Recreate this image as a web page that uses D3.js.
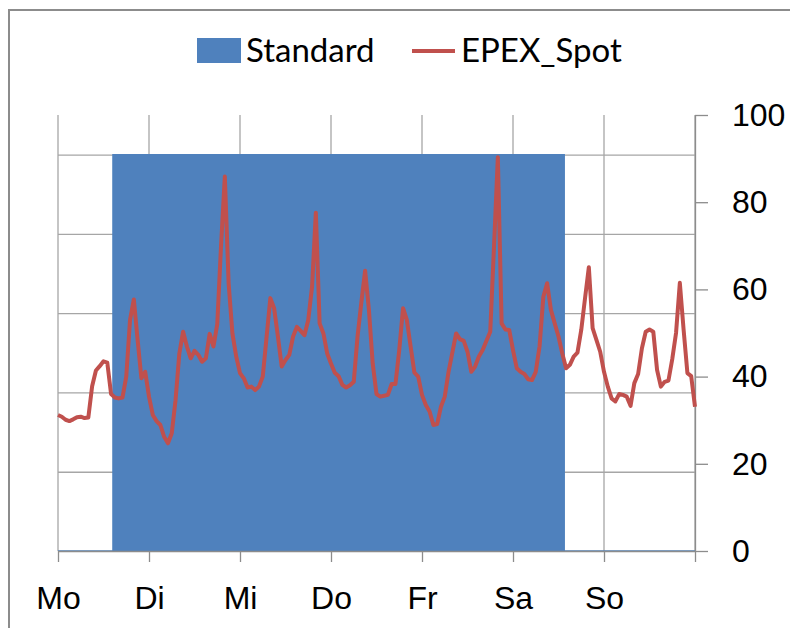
<!DOCTYPE html>
<html>
<head>
<meta charset="utf-8">
<script src="https://cdn.jsdelivr.net/npm/d3@7"></script>
<style>
  body { margin: 0; background: #fff; }
  svg { display: block; font-family: Lato, "Open Sans", sans-serif; }
  .grid line { stroke: #a6a6a6; stroke-width: 1.3; }
  .grid path { display: none; }
  .axis path, .axis line { stroke: #8c8c8c; stroke-width: 1.3; }
  .axis text { fill: #000; font-size: 32px; }
</style>
</head>
<body>
<div class="chart"></div>
<script>
// week of hourly values, Mo 00:00 .. So 24:00
var days = ["Mo", "Di", "Mi", "Do", "Fr", "Sa", "So"];
var dayHours = [0, 24, 48, 72, 96, 120, 144, 168];
var yTicks = [0, 20, 40, 60, 80, 100];

// Standard tariff window (1 = on)
var standard = [
  0,0,0,0,0,0,0,0,0,0,0,0,0,0,0,1,1,1,1,1,1,1,1,1,
  1,1,1,1,1,1,1,1,1,1,1,1,1,1,1,1,1,1,1,1,1,1,1,1,
  1,1,1,1,1,1,1,1,1,1,1,1,1,1,1,1,1,1,1,1,1,1,1,1,
  1,1,1,1,1,1,1,1,1,1,1,1,1,1,1,1,1,1,1,1,1,1,1,1,
  1,1,1,1,1,1,1,1,1,1,1,1,1,1,1,1,1,1,1,1,1,1,1,1,
  1,1,1,1,1,1,1,1,1,1,1,1,1,1,0,0,0,0,0,0,0,0,0,0,
  0,0,0,0,0,0,0,0,0,0,0,0,0,0,0,0,0,0,0,0,0,0,0,0,
  0
];

// EPEX spot price, EUR/MWh
var epex = [
  31.2,30.8,30.1,29.8,30.2,30.7,30.8,30.5,30.6,37.8,41.4,42.4,43.5,43.2,36.0,35.2,35.0,35.2,40.0,53.0,57.7,48.4,39.6,41.1,
  35.4,31.2,29.8,28.9,26.2,24.7,27.0,34.6,45.3,50.3,46.9,44.2,45.9,45.0,43.4,44.2,49.8,46.9,52.0,70.0,85.9,61.4,49.9,44.6,
  40.8,39.6,37.5,37.7,36.9,37.7,40.0,49.0,58.0,55.7,49.2,42.3,43.8,45.0,49.2,51.4,50.5,49.5,53.0,60.6,77.6,52.2,49.9,45.3,
  43.0,40.9,40.1,38.1,37.5,38.0,38.8,49.2,57.0,64.3,55.3,43.0,36.0,35.4,35.6,35.8,38.3,38.3,46.1,55.7,53.0,46.9,40.9,40.0,
  35.8,33.5,32.0,28.9,29.1,33.1,35.4,41.1,45.5,49.9,48.6,48.2,45.7,41.1,42.3,44.6,46.1,48.2,50.3,70.0,90.3,52.2,50.8,50.7,
  46.1,41.9,41.1,40.6,39.4,39.2,41.1,46.9,58.3,61.4,55.3,52.2,49.2,45.3,41.9,42.7,44.6,45.5,50.7,58.0,65.1,51.1,48.4,45.7,
  41.1,37.7,35.0,34.3,36.0,35.8,35.4,33.3,38.5,40.6,46.5,50.3,50.8,50.3,41.5,37.7,38.8,39.1,44.0,50.0,61.5,50.7,40.8,40.1,
  33.1
];

var width = 790, height = 628;
var plotLeft = 58, plotRight = 695, plotTop = 115, plotBottom = 551;

var svg = d3.select(".chart")
            .append("svg")
            .attr("width", width)
            .attr("height", height);

// outer chart frame (runs past the cropped edges)
svg.append("rect")
    .attr("x", 9).attr("y", 10)
    .attr("width", 900).attr("height", 700)
    .style("fill", "none")
    .style("stroke", "#8c8c8c")
    .style("stroke-width", 2);

var x = d3.scaleLinear().domain([0, 168]).range([plotLeft, plotRight]);
var yStd = d3.scaleLinear().domain([0, 1.1]).range([plotBottom, plotTop]);
var yEpex = d3.scaleLinear().domain([0, 100]).range([plotBottom, plotTop]);

// horizontal grid follows the (hidden) primary axis
svg.append("g")
    .attr("class", "grid")
    .attr("transform", "translate(" + plotLeft + ",0)")
    .call(d3.axisLeft(yStd).tickValues([0.2, 0.4, 0.6, 0.8, 1.0]).tickSize(-(plotRight - plotLeft)).tickFormat(""));

// vertical day grid
svg.append("g")
    .attr("class", "grid")
    .selectAll("line")
    .data(dayHours)
    .enter().append("line")
    .attr("x1", function(d){ return x(d); })
    .attr("x2", function(d){ return x(d); })
    .attr("y1", plotTop)
    .attr("y2", plotBottom);

// Standard as stepped area
var area = d3.area()
    .x(function(d, i){ return x(i); })
    .y0(yStd(0))
    .y1(function(d){ return yStd(d); })
    .curve(d3.curveStep);

svg.append("path")
    .datum(standard)
    .attr("d", area)
    .style("fill", "#4f81bd")
    .style("stroke", "#4f81bd")
    .style("stroke-width", 1.5);

// x axis
svg.append("g")
    .attr("class", "axis")
    .attr("transform", "translate(0," + plotBottom + ")")
    .call(d3.axisBottom(x).tickValues(dayHours).tickSize(11).tickSizeOuter(0).tickPadding(24)
      .tickFormat(function(d, i){ return days[i] || ""; }));

// right axis for EPEX
svg.append("g")
    .attr("class", "axis")
    .attr("transform", "translate(" + plotRight + ",0)")
    .call(d3.axisRight(yEpex).tickValues(yTicks).tickSize(13).tickSizeOuter(0).tickPadding(24));

// EPEX line
var line = d3.line()
    .x(function(d, i){ return x(i); })
    .y(function(d){ return yEpex(d); });

svg.append("path")
    .datum(epex)
    .attr("d", line)
    .style("fill", "none")
    .style("stroke", "#c0504d")
    .style("stroke-width", 4)
    .style("stroke-linejoin", "round");

// legend
var legend = svg.append("g").attr("class", "legend");
legend.append("rect")
    .attr("x", 197).attr("y", 38)
    .attr("width", 44).attr("height", 25)
    .style("fill", "#4f81bd");
legend.append("text")
    .attr("x", 246).attr("y", 62)
    .style("font-size", "33px")
    .text("Standard");
legend.append("line")
    .attr("x1", 412).attr("x2", 455)
    .attr("y1", 51).attr("y2", 51)
    .style("stroke", "#c0504d")
    .style("stroke-width", 4);
legend.append("text")
    .attr("x", 461).attr("y", 62)
    .style("font-size", "33px")
    .text("EPEX_Spot");
</script>
</body>
</html>
